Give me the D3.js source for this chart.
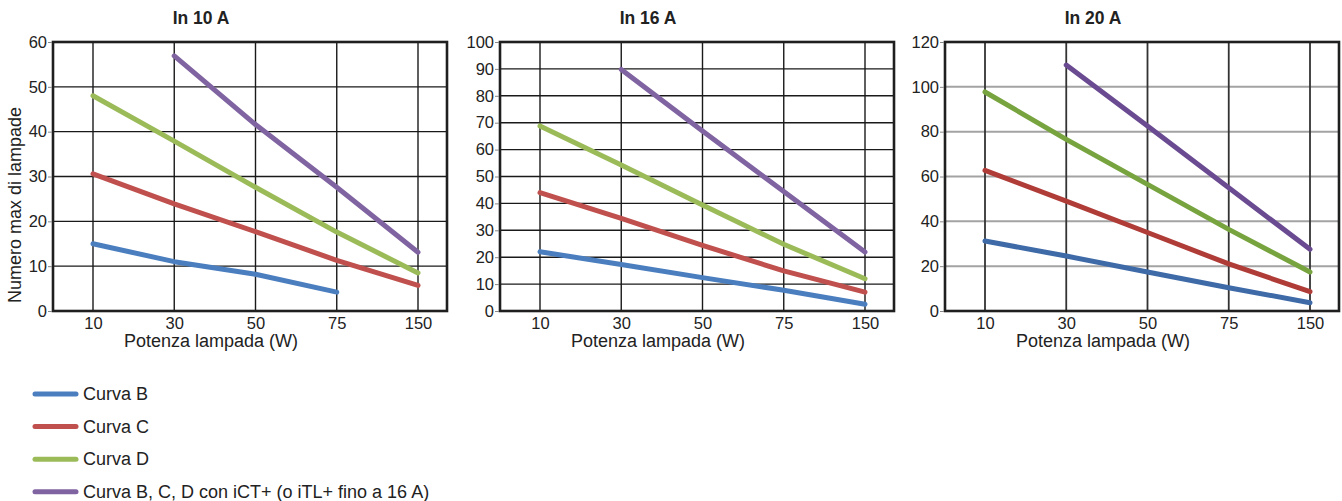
<!DOCTYPE html>
<html>
<head>
<meta charset="utf-8">
<script src="https://cdn.jsdelivr.net/npm/d3@7"></script>
<style>
  body { margin: 0; background: #fff; }
  svg { display: block; font-family: Arial, "Liberation Sans", sans-serif; }
</style>
</head>
<body>
<script>
// categories on x (lamp power, W)
const potenze = ["10", "30", "50", "75", "150"];

const titoli = ["In 10 A", "In 16 A", "In 20 A"];
const yMax = [60, 100, 120];
const yStep = [10, 10, 20];

const nomiSerie = ["Curva B", "Curva C", "Curva D", "Curva B, C, D con iCT+ (o iTL+ fino a 16 A)"];

// In 10 A
const curvaB_10 = [15, 11, 8.2, 4.2, null];
const curvaC_10 = [30.6, 23.9, 17.7, 11.3, 5.7];
const curvaD_10 = [48, 37.9, 27.6, 17.6, 8.5];
const curvaICT_10 = [null, 56.9, 41.6, 27.6, 13.1];

// In 16 A
const curvaB_16 = [22, 17.3, 12.4, 7.7, 2.5];
const curvaC_16 = [44, 34.4, 24.4, 14.9, 7];
const curvaD_16 = [68.8, 54.3, 39.4, 24.8, 12];
const curvaICT_16 = [null, 89.8, 66.9, 44.4, 21.9];

// In 20 A
const curvaB_20 = [31.2, 24.5, 17.4, 10.4, 3.7];
const curvaC_20 = [62.7, 49, 35, 21, 8.6];
const curvaD_20 = [97.7, 76.6, 56.5, 36.4, 17.4];
const curvaICT_20 = [null, 109.7, 82.5, 55, 27.5];

const datiPannelli = [
    [curvaB_10, curvaC_10, curvaD_10, curvaICT_10],
    [curvaB_16, curvaC_16, curvaD_16, curvaICT_16],
    [curvaB_20, curvaC_20, curvaD_20, curvaICT_20]
];

const colori = ["#4a7ebf", "#c0504d", "#9bbb59", "#8064a2"];
const coloriScuri = ["#3e6aa8", "#b03c38", "#78a43f", "#6a4b92"];

const width = 1342, height = 501;
const svg = d3.select("body").append("svg").attr("width", width).attr("height", height);

const lefts = [53, 500, 945];
const plotW = 394, plotTop = 42, plotBottom = 311;

titoli.forEach(function (titolo, p) {
    const left = lefts[p];
    const g = svg.append("g");

    const x = d3.scalePoint().domain(potenze).range([left + 40, left + 365]);
    const y = d3.scaleLinear().domain([0, yMax[p]]).range([plotBottom, plotTop]);
    const ticks = d3.range(0, yMax[p] + 1, yStep[p]);

    // horizontal grid
    const grigio = p == 2;
    g.selectAll(".hgrid").data(ticks.slice(1, -1)).enter().append("line")
        .attr("x1", left).attr("x2", left + plotW)
        .attr("y1", d => y(d)).attr("y2", d => y(d))
        .attr("stroke", grigio ? "#a3a3a3" : "#1a1a1a")
        .attr("stroke-width", grigio ? 2 : 1.4);

    // vertical grid
    g.selectAll(".vgrid").data(potenze).enter().append("line")
        .attr("x1", d => x(d)).attr("x2", d => x(d))
        .attr("y1", plotTop).attr("y2", plotBottom)
        .attr("stroke", grigio ? "#333" : "#1a1a1a")
        .attr("stroke-width", grigio ? 1.8 : 1.4);

    // frame
    g.append("rect")
        .attr("x", left).attr("y", plotTop)
        .attr("width", plotW).attr("height", plotBottom - plotTop)
        .attr("fill", "none").attr("stroke", "#1f1f1f").attr("stroke-width", 2.6);

    // y axis
    const yAxis = d3.axisLeft(y).tickValues(ticks).tickSize(4).tickPadding(1);
    const ga = g.append("g").attr("transform", "translate(" + (left - 1) + ",0)").call(yAxis);
    ga.select(".domain").remove();
    ga.selectAll(".tick line").attr("stroke", "#888");
    ga.selectAll("text").attr("font-size", 16.5).attr("fill", "#222").attr("font-family", null);

    // x axis
    const xAxis = d3.axisBottom(x).tickSize(0).tickPadding(6);
    const gx = g.append("g").attr("transform", "translate(0," + plotBottom + ")").call(xAxis);
    gx.select(".domain").remove();
    gx.selectAll("text").attr("font-size", 16.5).attr("fill", "#222").attr("font-family", null);

    // series
    const line = d3.line()
        .defined(d => d != null)
        .x((d, i) => x(potenze[i]))
        .y(d => y(d));

    datiPannelli[p].forEach(function (serie, s) {
        g.append("path")
            .attr("d", line(serie))
            .attr("fill", "none")
            .attr("stroke", grigio ? coloriScuri[s] : colori[s])
            .attr("stroke-width", 5)
            .attr("stroke-linecap", "round")
            .attr("stroke-linejoin", "round");
    });

    // titles
    g.append("text")
        .attr("x", left + 148).attr("y", 24)
        .attr("text-anchor", "middle")
        .attr("font-size", 17.5).attr("font-weight", "bold").attr("fill", "#222")
        .text(titolo);

    g.append("text")
        .attr("x", left + 158).attr("y", 347)
        .attr("text-anchor", "middle")
        .attr("font-size", 18).attr("fill", "#222")
        .text("Potenza lampada (W)");
});

svg.append("text")
    .attr("transform", "translate(21,205) rotate(-90)")
    .attr("text-anchor", "middle")
    .attr("font-size", 18).attr("fill", "#222")
    .text("Numero max di lampade");

// legend
const legenda = svg.append("g");
nomiSerie.forEach(function (nome, i) {
    const yy = 394 + i * 32.6;
    legenda.append("line")
        .attr("x1", 35).attr("x2", 76)
        .attr("y1", yy).attr("y2", yy)
        .attr("stroke", colori[i]).attr("stroke-width", 5)
        .attr("stroke-linecap", "round");
    legenda.append("text")
        .attr("x", 83).attr("y", yy + 6)
        .attr("font-size", 18).attr("fill", "#222")
        .text(nome);
});
</script>
</body>
</html>
